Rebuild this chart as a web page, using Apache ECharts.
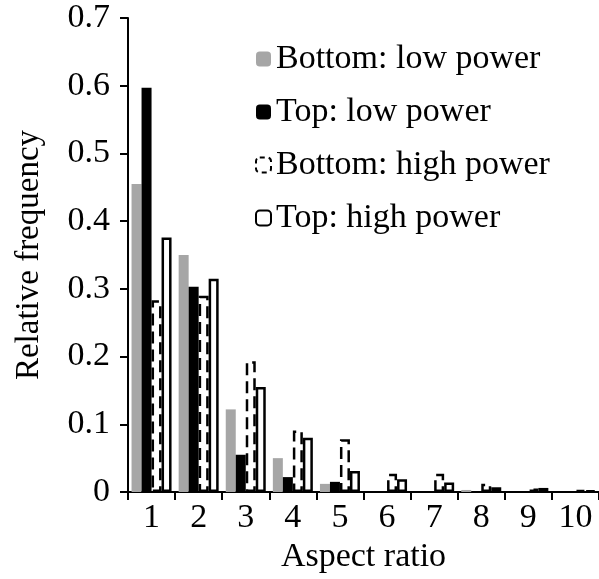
<!DOCTYPE html>
<html>
<head>
<meta charset="utf-8">
<script src="https://cdn.jsdelivr.net/npm/echarts@6/dist/echarts.min.js"></script>
<style>html,body{margin:0;padding:0;background:#fff;}#c{width:599px;height:579px;}</style>
</head>
<body>
<div id="c"></div>
<script>
var categories = ['1','2','3','4','5','6','7','8','9','10'];
var bottomLow  = [0.455, 0.350, 0.122, 0.050, 0.012, 0.000, 0.000, 0.003, 0.000, 0.000];
var topLow     = [0.597, 0.303, 0.055, 0.022, 0.015, 0.000, 0.000, 0.000, 0.001, 0.000];
var bottomHigh = [0.283, 0.290, 0.193, 0.091, 0.078, 0.027, 0.027, 0.012, 0.005, 0.003];
var topHigh    = [0.376, 0.315, 0.155, 0.080, 0.031, 0.019, 0.014, 0.007, 0.006, 0.002];
var seriesNames = ['Bottom: low power','Top: low power','Bottom: high power','Top: high power'];
var yTicks = [0, 0.7, 0.1];

var font = '"Liberation Serif", "Times New Roman", serif';
var chart = echarts.init(document.getElementById('c'), null, {renderer: 'canvas'});
var bw = 10;
var dash = [12, 6];
chart.setOption({
  animation: false,
  backgroundColor: '#fff',
  textStyle: {fontFamily: font, color: '#000'},
  grid: {left: 128, top: 18, right: -4, bottom: 87, containLabel: false},
  legend: {
    orient: 'vertical', left: 250, top: 37, itemWidth: 15, itemHeight: 15, itemGap: 19,
    textStyle: {fontFamily: font, fontSize: 34, color: '#000', lineHeight: 34},
    data: [
      {name: seriesNames[0]},
      {name: seriesNames[1]},
      {name: seriesNames[2], itemStyle: {color: '#fff', borderColor: '#000', borderWidth: 2, borderType: [5, 4]}},
      {name: seriesNames[3], itemStyle: {color: '#fff', borderColor: '#000', borderWidth: 2}}
    ]
  },
  xAxis: {
    type: 'category', data: categories,
    name: 'Aspect ratio', nameLocation: 'middle', nameGap: 47,
    nameTextStyle: {fontFamily: font, fontSize: 34, color: '#000'},
    axisLine: {lineStyle: {color: '#000', width: 2}},
    axisTick: {show: true, length: 8, lineStyle: {color: '#000', width: 2}},
    axisLabel: {fontFamily: font, fontSize: 34, color: '#000', margin: 9},
    splitLine: {show: false}
  },
  yAxis: {
    type: 'value', min: yTicks[0], max: yTicks[1], interval: yTicks[2],
    name: 'Relative frequency', nameLocation: 'middle', nameGap: 82,
    nameTextStyle: {fontFamily: font, fontSize: 33, color: '#000'},
    axisLine: {show: true, lineStyle: {color: '#000', width: 2}},
    axisTick: {show: true, length: 8, lineStyle: {color: '#000', width: 2}},
    axisLabel: {fontFamily: font, fontSize: 34, color: '#000', margin: 18},
    splitLine: {show: false}
  },
  series: [
    {name: seriesNames[0], type: 'bar', data: bottomLow, barWidth: bw, barGap: '0%',
     itemStyle: {color: '#a6a6a6'}},
    {name: seriesNames[1], type: 'bar', data: topLow, barWidth: bw, barGap: '0%',
     itemStyle: {color: '#000'}},
    {name: seriesNames[2], type: 'bar', data: bottomHigh, barWidth: bw, barGap: '0%',
     itemStyle: {color: '#fff', borderColor: '#000', borderWidth: 2.5, borderType: dash}},
    {name: seriesNames[3], type: 'bar', data: topHigh, barWidth: bw, barGap: '0%',
     itemStyle: {color: '#fff', borderColor: '#000', borderWidth: 2.5}}
  ]
});
</script>
</body>
</html>
